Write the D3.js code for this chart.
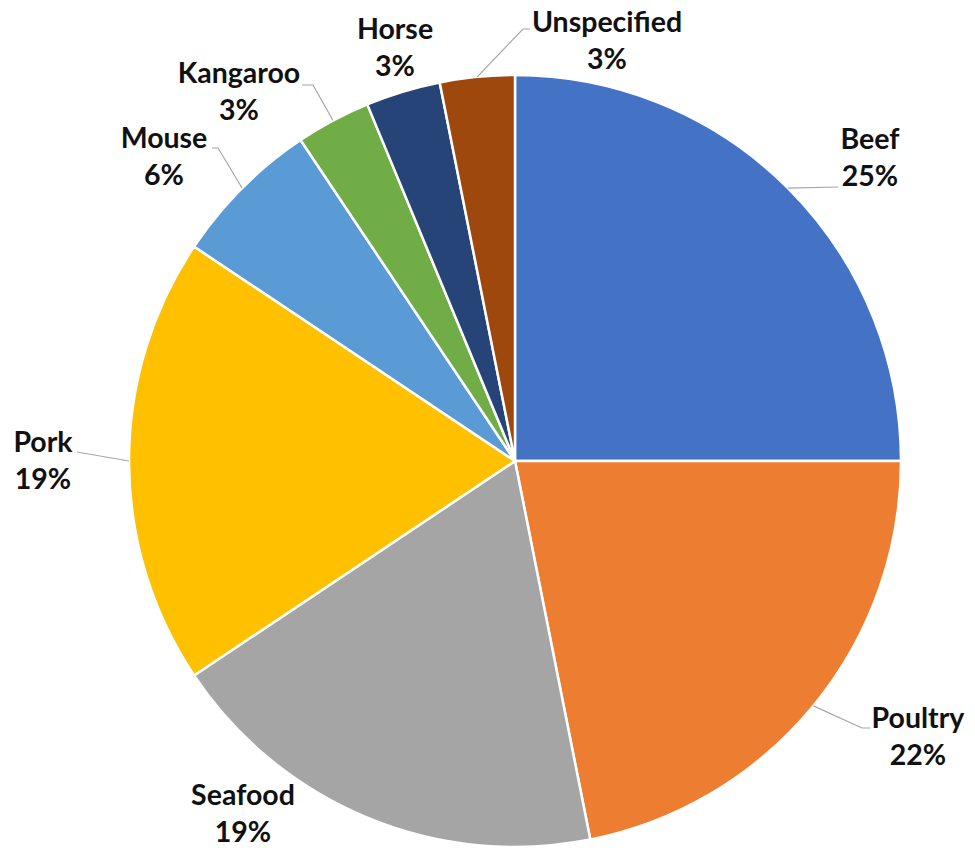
<!DOCTYPE html>
<html>
<head>
<meta charset="utf-8">
<script src="https://cdn.jsdelivr.net/npm/d3@7"></script>
<style>
  html, body { margin: 0; padding: 0; background: #fff; }
  svg { display: block; }
</style>
</head>
<body>
<div id="chart"></div>
<script>
// ---- Data ----
const categories = ["Beef", "Poultry", "Seafood", "Pork", "Mouse", "Kangaroo", "Horse", "Unspecified"];
const counts     = [8, 7, 6, 6, 2, 1, 1, 1];
const percentLabels = ["25%", "22%", "19%", "19%", "6%", "3%", "3%", "3%"];
const colors     = ["#4472C4", "#ED7D31", "#A5A5A5", "#FFC000", "#5B9BD5", "#70AD47", "#264478", "#9E480E"];

// ---- Layout (label placement, not data) ----
const labelLayout = {
  "Beef":        { x: 870, y: 149, leader: [[838, 187]] },
  "Poultry":     { x: 918, y: 728, leader: [[862, 728], [870, 728]] },
  "Seafood":     { x: 243, y: 805, leader: null },
  "Pork":        { x: 43,  y: 452, leader: [[77, 452]] },
  "Mouse":       { x: 164, y: 148, leader: [[218, 148], [212, 148]] },
  "Kangaroo":    { x: 239, y: 83,  leader: [[313, 85], [302, 85]] },
  "Horse":       { x: 395, y: 39,  leader: null },
  "Unspecified": { x: 607, y: 32,  leader: [[523, 29], [530, 29]] }
};

const width = 975, height = 850;
const cx = 515, cy = 461, radius = 386;
const lineGap = 37;

const svg = d3.select("#chart").append("svg")
  .attr("width", width).attr("height", height);

const data = categories.map((c, i) => ({ name: c, value: counts[i], pct: percentLabels[i], color: colors[i] }));

const pie = d3.pie().value(d => d.value).sort(null);
const arcs = pie(data);
const arc = d3.arc().innerRadius(0).outerRadius(radius);

const g = svg.append("g").attr("transform", `translate(${cx},${cy})`);

g.selectAll("path.slice")
  .data(arcs)
  .join("path")
  .attr("class", "slice")
  .attr("d", arc)
  .attr("fill", d => d.data.color)
  .attr("stroke", "#ffffff")
  .attr("stroke-width", 2.5)
  .attr("stroke-linejoin", "round");

// leader lines
arcs.forEach(a => {
  const L = labelLayout[a.data.name];
  if (!L || !L.leader) return;
  const p0 = d3.arc().innerRadius(radius).outerRadius(radius).centroid(a);
  const pts = [[cx + p0[0], cy + p0[1]], ...L.leader];
  svg.append("path")
    .attr("d", d3.line()(pts))
    .attr("fill", "none")
    .attr("stroke", "#a6a6a6")
    .attr("stroke-width", 1.2);
});

// labels
arcs.forEach(a => {
  const L = labelLayout[a.data.name];
  const t = svg.append("text")
    .attr("text-anchor", "middle")
    .attr("font-family", "Lato, 'Open Sans', sans-serif")
    .attr("font-weight", "bold")
    .attr("font-size", 28.5)
    .attr("fill", "#111");
  t.append("tspan").attr("x", L.x).attr("y", L.y).text(a.data.name);
  t.append("tspan").attr("x", L.x).attr("y", L.y + lineGap).text(a.data.pct);
});
</script>
</body>
</html>
